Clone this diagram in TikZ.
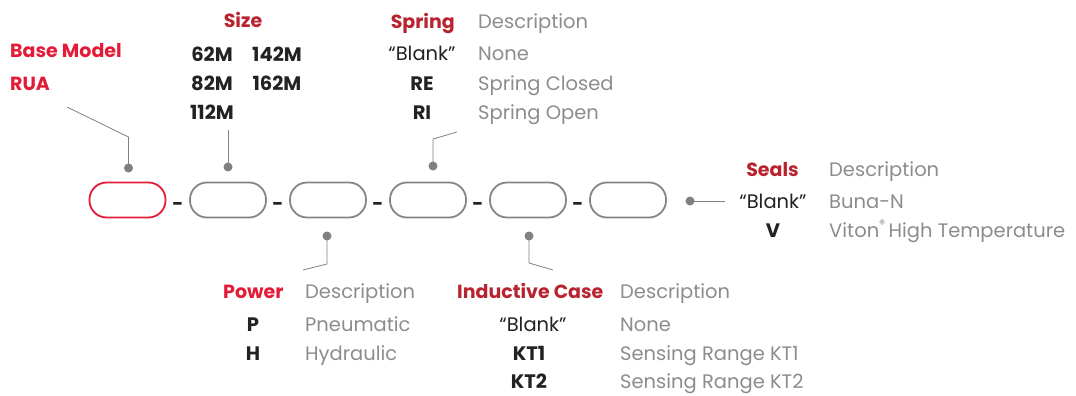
\documentclass[tikz,border=0pt]{standalone}
\usepackage{fontspec}
\setmainfont{Poppins}
\definecolor{headred}{HTML}{B8232F}
\definecolor{basered}{HTML}{E31B37}
\definecolor{codeblack}{HTML}{222222}
\definecolor{descgrey}{HTML}{8C8C8C}
\definecolor{slotgrey}{HTML}{858585}
\definecolor{pingrey}{HTML}{808080}
\tikzset{
  head/.style={font=\bfseries\fontsize{19}{22}\selectfont,text=headred,inner sep=0pt},
  code/.style={font=\bfseries\fontsize{19.5}{22}\selectfont,text=codeblack,inner sep=0pt},
  blank/.style={font=\fontsize{19.5}{22}\selectfont,text=codeblack,inner sep=0pt},
  desc/.style={font=\fontsize{19.5}{22}\selectfont,text=descgrey,inner sep=0pt},
  slot/.style={rectangle,rounded corners=17pt,draw=slotgrey,line width=1.8pt,minimum width=76pt,minimum height=35pt},
  pin/.style={draw=pingrey,line width=0.8pt},
  pindot/.style={circle,fill=pingrey,inner sep=0pt,minimum size=9pt},
  sep/.style={font=\bfseries\fontsize{19}{22}\selectfont,text=codeblack,inner sep=0pt}
}
\begin{document}
\begin{tikzpicture}[x=1pt,y=1pt]
  \useasboundingbox (0,0) rectangle (1076,-396);
  % Slots
  \node[slot,draw=basered] (base) at (127.5,-200) {};
  \node[slot] (size) at (228,-200) {};
  \node[slot] (power) at (328,-200) {};
  \node[slot] (spring) at (428,-200) {};
  \node[slot] (induct) at (528,-200) {};
  \node[slot] (seals) at (628,-200) {};
  \foreach \x [count=\i] in {178,278,378,478,578}
    \node[sep] (dash\i) at (\x,-206) {-};
  % Pins
  \node[pindot] (dbase) at (128.5,-168) {};
  \node[pindot] (dsize) at (228,-167) {};
  \node[pindot] (dspring) at (433,-166) {};
  \node[pindot] (dpower) at (327,-236) {};
  \node[pindot] (dinduct) at (529,-236) {};
  \node[pindot] (dseals) at (690,-201) {};
  \coordinate (kbase) at (67,-107);
  \coordinate (ksize) at (228,-130);
  \coordinate (kspring) at (457,-132);
  \coordinate (kpower) at (303,-270);
  \coordinate (kinduct) at (553,-270);
  \coordinate (kseals) at (725,-201);
  \draw[pin] (dbase.center) -- (dbase.center |- 0,-137) -- (kbase);
  \draw[pin] (dsize.center) -- (ksize);
  \draw[pin] (dspring.center) -- (dspring.center |- 0,-139) -- (kspring);
  \draw[pin] (dpower.center) -- (dpower.center |- 0,-264) -- (kpower);
  \draw[pin] (dinduct.center) -- (dinduct.center |- 0,-263) -- (kinduct);
  \draw[pin] (dseals.center) -- (kseals);
  % Base model
  \node[head,text=basered,anchor=base west] (hbase) at (10,-58) {Base Model};
  \node[head,text=basered,anchor=base west] (cbase) at (10,-91) {RUA};
  % Size
  \node[head,anchor=base] (hsize) at (243,-28) {Size};
  \node[code,anchor=base] (s62) at (212,-62) {62M};
  \node[code,anchor=base] (s142) at (277,-62) {142M};
  \node[code,anchor=base] (s82) at (212,-90) {82M};
  \node[code,anchor=base] (s162) at (277,-90) {162M};
  \node[code,anchor=base] (s112) at (212,-119) {112M};
  % Spring
  \node[head,anchor=base east] (hspring) at (455,-29) {Spring};
  \node[desc,anchor=base west] (dhspring) at (478,-29) {Description};
  \node[blank,anchor=base] (c1spring) at (422,-61) {“Blank”};
  \node[desc,anchor=base west] (t1spring) at (478,-61) {None};
  \node[code,anchor=base] (c2spring) at (422,-90) {RE};
  \node[desc,anchor=base west] (t2spring) at (478,-90) {Spring Closed};
  \node[code,anchor=base] (c3spring) at (422,-119) {RI};
  \node[desc,anchor=base west] (t3spring) at (478,-119) {Spring Open};
  % Seals
  \node[head,anchor=base east] (hseals) at (799,-176) {Seals};
  \node[desc,anchor=base west] (dhseals) at (829,-176) {Description};
  \node[blank,anchor=base] (c1seals) at (773,-208) {“Blank”};
  \node[desc,anchor=base west] (t1seals) at (829,-208) {Buna-N};
  \node[code,anchor=base] (c2seals) at (773,-237) {V};
  \node[desc,anchor=base west] (t2seals) at (829,-237) {Viton\raisebox{0.42em}{\fontsize{12}{12}\selectfont®}\,High Temperature};
  % Power
  \node[head,text=basered,anchor=base west] (hpower) at (223,-298) {Power};
  \node[desc,anchor=base west] (dhpower) at (305,-298) {Description};
  \node[code,anchor=base] (c1power) at (253,-331) {P};
  \node[desc,anchor=base west] (t1power) at (305,-331) {Pneumatic};
  \node[code,anchor=base] (c2power) at (253,-360) {H};
  \node[desc,anchor=base west] (t2power) at (305,-360) {Hydraulic};
  % Inductive case
  \node[head,anchor=base west] (hinduct) at (457,-298) {Inductive Case};
  \node[desc,anchor=base west] (dhinduct) at (620,-298) {Description};
  \node[blank,anchor=base] (c1induct) at (533,-331) {“Blank”};
  \node[desc,anchor=base west] (t1induct) at (620,-331) {None};
  \node[code,anchor=base] (c2induct) at (529,-360) {KT1};
  \node[desc,anchor=base west] (t2induct) at (620,-360) {Sensing Range KT1};
  \node[code,anchor=base] (c3induct) at (529,-388) {KT2};
  \node[desc,anchor=base west] (t3induct) at (620,-388) {Sensing Range KT2};
\end{tikzpicture}
\end{document}
